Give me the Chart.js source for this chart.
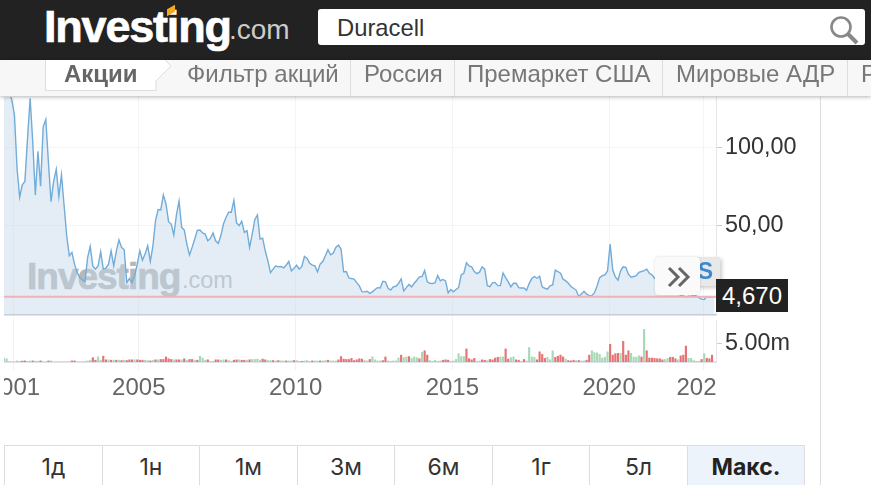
<!DOCTYPE html>
<html>
<head>
<meta charset="utf-8">
<script src="https://cdn.jsdelivr.net/npm/chart.js@4"></script>
<style>
html, body { margin: 0; padding: 0; width: 871px; height: 485px; overflow: hidden; background: #fff; font-family: "Liberation Sans", Arial, sans-serif; }
.abs { position: absolute; white-space: nowrap; }
#header { left: 0; top: 0; width: 871px; height: 60px; background: #222; z-index: 5; }
#search { left: 318px; top: 9px; width: 547px; height: 36px; background: #fff; border-radius: 3px; z-index: 6; font-size: 23.8px; line-height: 37px; color: #333; text-indent: 19px; }
#nav { left: 0; top: 60px; width: 871px; height: 36px; background: #f7f7f7; box-shadow: 0 1px 4px rgba(0,0,0,.3); z-index: 5; }
.navitem { top: 60px; z-index: 6; font-size: 24px; line-height: 28px; color: #777; }
.navsep { top: 60px; width: 1px; height: 36px; background: #ddd; z-index: 6; }
.logo1 { font-weight: bold; -webkit-text-stroke: .7px currentColor; }
.btn { top: 445px; height: 40px; border-left: 1px solid #ddd; border-top: 1px solid #ddd; box-sizing: border-box; text-align: center; font-family: Inter, sans-serif; font-size: 23px; line-height: 42px; color: #333; }
canvas { display: block; }
</style>
</head>
<body>

<div class="abs" id="header"></div>
<div class="abs logo1" style="left:44px;top:2px;font-size:45px;line-height:50px;color:#fff;letter-spacing:-1.2px;z-index:6">Investing</div>
<div class="abs" style="left:229px;top:12px;font-size:28px;line-height:36px;color:#ccc;z-index:6">.com</div>
<div class="abs" style="left:167px;top:7px;width:8px;height:7px;background:#f5a623;transform:skewY(-30deg);z-index:7"></div>
<div class="abs" id="search">Duracell</div>
<svg class="abs" style="left:828px;top:14px;z-index:7" width="32" height="32"><circle cx="13" cy="13" r="9.5" fill="none" stroke="#888" stroke-width="2.6"/><line x1="20" y1="20" x2="29" y2="29" stroke="#888" stroke-width="4"/></svg>

<div class="abs" id="nav"></div>
<svg class="abs" style="left:45px;top:60px;z-index:6" width="130" height="32"><path d="M0.5 0 V30.5 H111 V21 L126 6 L120 0" fill="#fff" stroke="#ddd"/></svg>
<div class="abs navitem" style="left:64px;font-weight:bold;color:#666">Акции</div>
<div class="abs navitem" style="left:187px">Фильтр акций</div>
<div class="abs navitem" style="left:364px">Россия</div>
<div class="abs navitem" style="left:467px">Премаркет США</div>
<div class="abs navitem" style="left:676px">Мировые АДР</div>
<div class="abs navitem" style="left:861px">Р</div>
<div class="abs navsep" style="left:350px"></div>
<div class="abs navsep" style="left:454px"></div>
<div class="abs navsep" style="left:662px"></div>
<div class="abs navsep" style="left:847px"></div>

<!-- watermark stays under the transparent canvas -->
<div class="abs logo1" style="left:27px;top:253px;font-size:37px;line-height:48px;color:#b4b8bb;letter-spacing:-1px">Investing</div>
<div class="abs" style="left:182px;top:264px;font-size:23.5px;line-height:32px;color:#bbb">.com</div>

<div class="abs" style="left:4px;top:97px;width:816px;height:224px"><canvas id="priceChart" width="816" height="224"></canvas></div>
<div class="abs" style="left:4px;top:320px;width:816px;height:84px"><canvas id="volumeChart" width="816" height="84"></canvas></div>

<!-- the year labels stop at the right edge of the plot -->
<div class="abs" style="left:716px;top:366px;width:100px;height:40px;background:#fff"></div>
<div class="abs" style="left:820px;top:97px;width:1px;height:388px;background:#ddd"></div>

<div class="abs" style="left:690px;top:257px;width:30px;height:29px;background:#e8e8e8;box-shadow:2px 2px 4px rgba(0,0,0,.2);font-weight:bold;font-size:23px;line-height:29px;color:#3b8ad0;text-align:right;padding-right:7px;box-sizing:border-box">S</div>
<div class="abs" style="left:655px;top:257px;width:45px;height:38px;background:#fafafa;border-radius:4px;box-shadow:0 0 3px rgba(0,0,0,.15)"></div>
<svg class="abs" style="left:667px;top:266px" width="24" height="22"><path d="M2 2 L11 11 L2 20 M12 2 L21 11 L12 20" fill="none" stroke="#666" stroke-width="3"/></svg>
<div class="abs" style="left:716px;top:279px;width:72px;height:33px;background:#222;color:#fff;font-size:24px;line-height:34px;text-align:center">4,670</div>

<div class="abs btn" style="left:4px;width:98px">1д</div>
<div class="abs btn" style="left:102px;width:97px">1н</div>
<div class="abs btn" style="left:199px;width:98px">1м</div>
<div class="abs btn" style="left:297px;width:97px">3м</div>
<div class="abs btn" style="left:394px;width:98px">6м</div>
<div class="abs btn" style="left:492px;width:97px">1г</div>
<div class="abs btn" style="left:589px;width:98px">5л</div>
<div class="abs btn" style="left:687px;width:118px;background:#edf3fa;border-right:1px solid #ddd;font-weight:bold;color:#222">Макс.</div>

<script>
// Цена по месяцам
const prices = [
    141.9, 139.7, 135.4, 130.1, 120.5, 86.3, 68.1, 76.0, 78.2, 105.5,
    131.2, 103.4, 69.6, 97.4, 75.2, 113.0, 117.7, 90.6, 65.3, 78.2,
    85.9, 68.5, 82.4, 62.8, 43.5, 30.7, 32.9, 25.4, 20.0, 16.8,
    15.3, 14.1, 29.6, 36.7, 24.3, 22.2, 24.3, 33.3, 22.2, 22.8,
    25.4, 33.9, 24.3, 33.9, 40.8, 36.1, 34.6, 13.6, 16.2, 13.6,
    17.9, 25.4, 33.9, 28.0, 31.8, 37.1, 27.1, 37.1, 53.2, 60.2,
    60.0, 69.6, 63.8, 52.5, 51.0, 44.0, 56.8, 65.6, 48.9, 47.2,
    38.2, 31.2, 36.1, 41.4, 47.0, 47.2, 45.3, 44.6, 40.3, 41.8,
    45.3, 40.3, 38.6, 43.5, 51.0, 55.3, 58.5, 58.5, 66.0, 51.7,
    50.0, 52.7, 45.7, 46.8, 36.1, 44.6, 53.8, 56.8, 41.4, 42.0,
    33.9, 27.5, 20.0, 22.2, 24.3, 23.7, 23.9, 23.0, 24.7, 27.1,
    21.1, 22.8, 24.7, 22.2, 23.9, 30.3, 29.0, 26.0, 24.8, 24.3,
    20.5, 25.4, 27.1, 30.7, 34.6, 31.4, 32.4, 36.1, 37.6, 35.0,
    20.5, 20.7, 16.6, 16.2, 15.8, 13.6, 11.5, 7.9, 7.7, 8.1,
    6.8, 7.7, 9.2, 10.4, 10.2, 14.5, 14.1, 10.0, 8.9, 10.9,
    11.3, 13.0, 16.0, 8.3, 10.4, 12.4, 10.9, 13.2, 15.1, 17.3,
    17.5, 21.3, 14.1, 13.2, 13.0, 13.6, 18.1, 14.7, 15.6, 14.7,
    7.0, 9.2, 7.7, 9.2, 10.4, 18.6, 19.6, 26.3, 24.3, 23.7,
    20.7, 19.4, 20.3, 23.7, 22.2, 11.7, 11.1, 13.6, 13.6, 11.7,
    11.7, 19.8, 16.8, 14.1, 10.9, 13.2, 13.2, 10.4, 10.2, 10.2,
    8.7, 13.0, 16.2, 17.5, 16.4, 17.7, 10.9, 10.0, 9.4, 11.5,
    12.1, 21.6, 20.7, 19.6, 15.8, 14.7, 13.2, 11.1, 10.0, 8.7,
    4.7, 6.4, 8.1, 6.2, 5.3, 5.3, 7.2, 11.5, 16.8, 18.1,
    18.6, 21.1, 38.2, 21.6, 17.3, 15.1, 21.1, 23.7, 23.3, 19.0,
    17.1, 17.5, 18.1, 20.1, 20.7, 21.3, 22.2, 19.6, 18.6, 16.4,
    15.4, 14.6, 13.1, 12.0, 10.8, 10.1, 9.2, 8.1, 7.0, 5.3,
    5.1, 4.4, 5.0, 4.8, 5.9, 5.0, 4.0, 3.1, 2.9, 4.7,
    4.2, 4.5, 4.67
];

// Объём в миллионах
const volumes = [
    1.1, .9, .1, 0, 0, .3, .2, .25, .3, .2,
    .25, .3, .25, .2, .3, 0, 0, .3, .3, 0,
    0, 0, 0, 0, 0, 0, .3, .3, 0, 0,
    0, .1, .3, .5, 1.2, .5, 1.4, .5, 1.6, .6,
    .6, .5, .5, .5, .5, .4, .5, .4, .6, .6,
    .6, .6, .5, .5, .5, .4, .3, .5, .6, .6,
    .7, .7, 1.4, .9, .7, .6, .6, .6, .6, .9,
    .5, .7, .7, .5, .5, 1.6, 1.1, .5, .6, .2,
    .2, .6, .6, .5, .6, .6, .5, .2, .5, .6,
    .6, .5, .5, .5, .6, .7, .7, .8, .5, .8,
    .6, .4, .4, .4, .3, .4, .3, .3, .3, .3,
    .3, .4, .4, .2, .2, .3, .4, .2, .3, .3,
    .3, .3, .3, .4, .5, .3, .3, .3, .6, 1.5,
    .8, .7, .7, 1.0, .4, .6, .9, .8, .5, .3,
    .7, 1.4, .6, .3, .3, .4, 1.4, .3, .2, .3,
    .3, 1.1, 1.9, 1.2, 1.4, 1.5, 1.0, 1.4, 1.2, .9,
    2.7, 3.1, 1.9, .4, .2, .5, .2, .3, .5, .6,
    .5, .2, .3, .7, 2.3, 1.5, 1.5, 3.6, .9, .6,
    1.0, .2, .3, .6, .5, .4, .7, .6, 1.1, 1.3,
    1.4, 1.4, 3.6, .8, 1.2, 1.4, .6, .5, .2, .7,
    .3, 4.0, 1.4, 1.3, .6, 2.8, 2.1, 1.0, 1.3, .6,
    3.1, 1.3, 1.6, 1.9, 1.4, .8, .4, .3, .5, .4,
    .4, .3, .3, .5, 1.9, 3.1, 2.6, 2.5, 2.1, 1.1,
    1.3, 2.8, 4.9, 1.9, 2.3, 2.4, 2.4, 5.7, 1.9, 3.1,
    2.4, 1.4, 1.3, 1.7, 1.4, 9.0, 3.1, 1.1, 1.1, 1.0,
    .9, .9, .6, .7, 1.0, 1.3, 1.3, .9, .6, 1.7,
    1.9, 4.4, 1.0, 1.0, .4, .2, .2, .7, 2.3, 1.0,
    .9, 1.9
];

// 1 = зелёный столбик, 0 = красный
const volumeUp = [
    1,1,1,1,1,1,1,0,0,1,
    1,0,1,1,0,1,1,0,1,1,
    1,1,1,1,1,1,0,0,1,1,
    1,1,1,1,0,0,1,1,0,0,
    1,0,1,0,1,0,1,0,0,0,
    1,0,0,0,1,1,0,1,0,1,
    0,0,0,0,0,1,0,0,1,0,
    1,0,0,1,0,1,1,1,0,1,
    1,0,0,1,1,0,1,1,0,0,
    1,0,0,1,0,1,1,1,1,0,
    0,1,1,0,1,0,1,1,0,1,
    1,0,1,1,0,1,1,1,0,1,
    1,0,1,1,0,1,1,1,0,0,
    0,0,0,0,0,0,0,0,1,1,
    0,1,1,1,1,0,0,1,1,1,
    1,1,0,1,1,0,1,1,1,0,
    1,0,0,1,1,1,1,1,0,0,
    0,1,1,1,1,1,1,0,0,0,
    0,1,1,0,0,1,0,0,0,0,
    1,1,0,0,1,1,0,0,1,0,
    1,1,1,1,0,0,0,0,1,1,
    1,0,0,0,0,1,0,0,0,1,
    0,1,1,0,0,1,1,1,1,1,
    1,1,0,0,0,0,1,0,0,0,
    1,1,1,1,0,1,0,0,0,0,
    0,0,0,1,1,0,0,0,1,0,
    0,0,1,1,1,1,1,0,1,0,
    0,0
];

const yearTicks = [2001, 2005, 2010, 2015, 2020, 2023];
const priceTicks = [50, 100];
const volumeTicks = [5];
const lastPrice = [4.67, 4.67];

const firstYear = 2000.70;
const lastYear = 2023.41;

function monthToYear(i) {
    return firstYear + i / 12;
}

function setTicks(values) {
    return function(scale) {
        scale.ticks = values.map(v => ({ value: v }));
    };
}

// Ось справа фиксированной ширины, чтобы оба графика совпадали
function fixedWidth(scale) {
    scale.width = 104;
    scale.paddingTop = 0;
    scale.paddingBottom = 0;
}

function noPadding(scale) {
    scale.paddingLeft = 0;
    scale.paddingRight = 0;
}

const gridColor = '#f3f4f7';
const axisFont = { family: '"Liberation Sans", Arial, sans-serif', size: 23.4 };

new Chart(document.getElementById('priceChart'), {
    type: 'line',
    data: {
        datasets: [{
            data: lastPrice.map((v, i) => ({ x: i ? lastYear : firstYear, y: v })),
            borderColor: '#f0b2b6',
            borderWidth: 2,
            pointRadius: 0,
            fill: false,
            order: 0
        }, {
            data: prices.map((v, i) => ({ x: monthToYear(i), y: v })),
            borderColor: '#72acd8',
            borderWidth: 1.4,
            backgroundColor: 'rgba(196,216,233,0.45)',
            pointRadius: 0,
            tension: 0,
            fill: 'start',
            order: 1
        }]
    },
    options: {
        responsive: false,
        animation: false,
        maintainAspectRatio: false,
        layout: { padding: 0 },
        plugins: { legend: { display: false }, tooltip: { enabled: false } },
        scales: {
            x: {
                type: 'linear',
                min: firstYear,
                max: lastYear,
                afterBuildTicks: setTicks(yearTicks),
                afterFit: noPadding,
                ticks: { display: false },
                grid: { color: gridColor, tickLength: 6 },
                border: { color: '#c8c8c8', width: 1.5 }
            },
            y: {
                position: 'right',
                min: -7.05,
                max: 132.05,
                afterBuildTicks: setTicks(priceTicks),
                afterFit: fixedWidth,
                ticks: {
                    color: '#333',
                    font: axisFont,
                    padding: 3,
                    callback: v => v.toFixed(2).replace('.', ',')
                },
                grid: { color: gridColor, tickColor: '#ccc', tickLength: 6 },
                border: { color: '#e4e6ec' }
            }
        }
    }
});

new Chart(document.getElementById('volumeChart'), {
    type: 'bar',
    data: {
        datasets: [{
            data: volumes.map((v, i) => ({ x: monthToYear(i), y: v })),
            backgroundColor: volumeUp.map(u => u ? '#a8d8b5' : '#e57373'),
            barThickness: 1.5
        }]
    },
    options: {
        responsive: false,
        animation: false,
        maintainAspectRatio: false,
        layout: { padding: 0 },
        plugins: { legend: { display: false }, tooltip: { enabled: false } },
        scales: {
            x: {
                type: 'linear',
                min: firstYear,
                max: lastYear,
                offset: false,
                afterBuildTicks: setTicks(yearTicks),
                afterFit: noPadding,
                ticks: {
                    color: '#666',
                    font: { family: axisFont.family, size: 24 },
                    autoSkip: false,
                    maxRotation: 0,
                    padding: 4,
                    callback: v => String(v)
                },
                grid: { color: '#eef0f4', tickLength: 8, offset: false },
                border: { color: '#e0e3eb', width: 2 }
            },
            y: {
                position: 'right',
                min: 0,
                max: 11.6,
                afterBuildTicks: setTicks(volumeTicks),
                afterFit: fixedWidth,
                ticks: {
                    color: '#333',
                    font: axisFont,
                    padding: 3,
                    callback: v => v.toFixed(2) + 'm'
                },
                grid: { drawOnChartArea: false, tickColor: '#ccc', tickLength: 6 },
                border: { color: '#e4e6ec' }
            }
        }
    }
});
</script>
</body>
</html>
